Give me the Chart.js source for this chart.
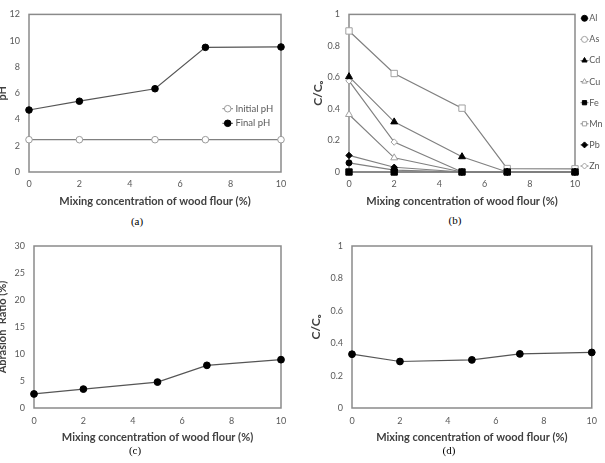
<!DOCTYPE html>
<html><head><meta charset="utf-8">
<script src="https://cdn.jsdelivr.net/npm/chart.js@4.4.1/dist/chart.umd.min.js"></script>
<style>
html,body{margin:0;padding:0;background:#fff;}
body{width:605px;height:463px;overflow:hidden;position:relative;}
canvas{position:absolute;}
.cap{position:absolute;width:40px;height:14px;line-height:14px;text-align:center;font-family:"Liberation Serif","Times New Roman",serif;font-size:11px;font-weight:normal;color:#000;white-space:nowrap;}
</style></head><body>
<canvas id="ca" width="303" height="212" style="left:-3px;top:0px"></canvas>
<canvas id="cb" width="305" height="212" style="left:300px;top:0px"></canvas>
<canvas id="cc" width="303" height="218" style="left:-3px;top:230px"></canvas>
<canvas id="cd" width="305" height="218" style="left:300px;top:230px"></canvas>
<div class="cap" style="left:117px;top:214px">(a)</div>
<div class="cap" style="left:435px;top:213px">(b)</div>
<div class="cap" style="left:115px;top:443px">(c)</div>
<div class="cap" style="left:429px;top:443px">(d)</div>
<script>
// ---------- data ----------
const mixing = [0, 2, 5, 7, 10];
const initialPH = [2.46, 2.46, 2.46, 2.46, 2.46];
const finalPH = [4.72, 5.39, 6.34, 9.49, 9.52];

const metals = ['Al', 'As', 'Cd', 'Cu', 'Fe', 'Mn', 'Pb', 'Zn'];
const alRatio = [0.058, 0.012, 0, 0, 0];
const asRatio = [0, 0, 0, 0, 0];
const cdRatio = [0.605, 0.318, 0.097, 0, 0];
const cuRatio = [0.365, 0.09, 0, 0, 0];
const feRatio = [0, 0, 0, 0, 0];
const mnRatio = [0.895, 0.625, 0.405, 0.022, 0.02];
const pbRatio = [0.105, 0.03, 0, 0, 0];
const znRatio = [0.578, 0.19, 0, 0, 0];

const abrasionRatio = [2.6, 3.5, 4.8, 7.9, 8.95];
const ccoRatio = [0.332, 0.287, 0.297, 0.334, 0.343];

const xTitle = 'Mixing concentration of wood flour (%)';
const phTitle = 'pH';
const ccTitle = 'C/C\u2092';
const abrTitle = 'Abrasion  Ratio (%)';

// ---------- helpers ----------
const FONT = 'Lato, "DejaVu Sans", sans-serif';
const TICK = '#595959';
const TITLE = '#404040';
const pts = vals => mixing.map((x, i) => ({x: x, y: vals[i]}));
const fmt = v => String(Math.round(v * 10) / 10);

function drawMarker(ctx, style, x, y, r, fill, stroke) {
  ctx.save();
  ctx.fillStyle = fill; ctx.strokeStyle = stroke; ctx.lineWidth = 1;
  ctx.beginPath();
  if (style === 'circle') {
    ctx.arc(x, y, r, 0, Math.PI * 2);
  } else if (style === 'triangle') {
    ctx.moveTo(x, y - r);
    ctx.lineTo(x + r * 0.866, y + r * 0.5);
    ctx.lineTo(x - r * 0.866, y + r * 0.5);
    ctx.closePath();
  } else if (style === 'rect') {
    const s = r * Math.SQRT1_2;
    ctx.rect(x - s, y - s, 2 * s, 2 * s);
  } else if (style === 'rectRot') {
    ctx.moveTo(x, y - r); ctx.lineTo(x + r, y); ctx.lineTo(x, y + r); ctx.lineTo(x - r, y); ctx.closePath();
  }
  ctx.fill(); ctx.stroke();
  ctx.restore();
}

const frame = {
  id: 'frame',
  beforeDatasetsDraw(chart) {
    const {ctx, chartArea: a} = chart;
    ctx.save();
    ctx.strokeStyle = '#8a8a8a';
    ctx.lineWidth = 1.5;
    ctx.strokeRect(a.left, a.top, a.right - a.left, a.bottom - a.top);
    ctx.restore();
  }
};

const sideLegend = {
  id: 'sideLegend',
  afterDraw(chart, args, o) {
    if (!o || !o.show) return;
    const ctx = chart.ctx;
    ctx.save();
    ctx.font = o.font;
    ctx.textBaseline = 'middle';
    ctx.textAlign = 'left';
    chart.data.datasets.forEach((ds, i) => {
      const y = o.y + i * o.dy, x = o.x;
      ctx.strokeStyle = ds.borderColor; ctx.lineWidth = 1;
      ctx.beginPath(); ctx.moveTo(x - o.half, y); ctx.lineTo(x + o.half, y); ctx.stroke();
      drawMarker(ctx, ds.pointStyle, x, y, o.r, ds.pointBackgroundColor, ds.pointBorderColor);
      ctx.fillStyle = o.color;
      ctx.fillText(ds.label, x + o.half + o.gap, y);
    });
    ctx.restore();
  }
};

function ds(label, vals, style, fill, stroke, line, r, order) {
  return {
    label: label, data: pts(vals), pointStyle: style,
    pointBackgroundColor: fill, pointBorderColor: stroke, pointBorderWidth: 1,
    pointRadius: r, pointHoverRadius: r, borderColor: line, borderWidth: 1.2,
    backgroundColor: fill, showLine: true, tension: 0, clip: false, order: order || 0
  };
}

function makeChart(id, o) {
  return new Chart(document.getElementById(id), {
    type: 'scatter',
    data: {datasets: o.datasets},
    plugins: [frame, sideLegend],
    options: {
      responsive: false, animation: false, devicePixelRatio: 1,
      layout: {padding: {top: o.top, right: o.right, left: 0, bottom: 0}},
      plugins: {legend: {display: false}, tooltip: {enabled: false}, sideLegend: o.legend || {show: false}},
      scales: {
        x: {
          type: 'linear', min: 0, max: 10,
          ticks: {stepSize: 2, color: TICK, font: {family: FONT, size: 9}, padding: o.xPad},
          grid: {display: false, drawTicks: false}, border: {display: false},
          title: {display: true, text: xTitle, color: TITLE, font: {family: FONT, size: 11, weight: 'bold', lineHeight: 1.2}, padding: {top: 0, bottom: 4.4}},
          afterFit(s) { s.height = 40; }
        },
        y: {
          type: 'linear', min: o.yMin, max: o.yMax,
          ticks: {stepSize: o.yStep, color: TICK, font: {family: FONT, size: 9}, padding: 9, callback: fmt},
          grid: {display: false, drawTicks: false}, border: {display: false},
          title: {display: true, text: o.yTitle, color: TITLE, font: {family: FONT, size: o.yTitleSize, weight: 'bold', lineHeight: o.yTitleLH}, padding: {top: o.yTitlePad, bottom: 0}},
          afterFit(s) { s.width = o.yWidth; }
        }
      }
    }
  });
}

// (a)
makeChart('ca', {
  top: 11, right: 19, yWidth: 32, xPad: 7,
  yMin: 0, yMax: 12, yStep: 2, yTitle: phTitle, yTitleSize: 11, yTitleLH: 1, yTitlePad: 0,
  datasets: [
    ds('Initial pH', initialPH, 'circle', '#ffffff', '#9a9a9a', '#808080', 3.3),
    ds('Final pH', finalPH, 'circle', '#000000', '#000000', '#555555', 3.3)
  ],
  legend: {show: true, x: 230.7, y: 108.7, dy: 14.6, half: 5.3, gap: 2.4, r: 3.3, font: '9.5px ' + FONT, color: TICK}
});

// (b)
const metalVals = [alRatio, asRatio, cdRatio, cuRatio, feRatio, mnRatio, pbRatio, znRatio];
const metalStyle = ['circle', 'circle', 'triangle', 'triangle', 'rect', 'rect', 'rectRot', 'rectRot'];
const metalFill = ['#000000', '#ffffff', '#000000', '#ffffff', '#000000', '#ffffff', '#000000', '#ffffff'];
const metalStroke = ['#000000', '#a0a0a0', '#000000', '#a0a0a0', '#000000', '#a0a0a0', '#000000', '#a0a0a0'];
const metalR = [3, 3, 4, 4, 4.5, 4.5, 3.2, 3.2];
const metalOrder = [0, 1, 0, 0, -1, 0, 0, 0];
makeChart('cb', {
  top: 11, right: 30, yWidth: 49, xPad: 7,
  yMin: 0, yMax: 1, yStep: 0.2, yTitle: ccTitle, yTitleSize: 12, yTitleLH: 1.2, yTitlePad: 10.8,
  datasets: metals.map((m, i) => ds(m, metalVals[i], metalStyle[i], metalFill[i], metalStroke[i], '#808080', metalR[i], metalOrder[i])),
  legend: {show: true, x: 284.5, y: 18.3, dy: 21.1, half: 4, gap: 0.8, r: 3, font: '9px ' + FONT, color: TICK}
});

// (c)
makeChart('cc', {
  top: 16, right: 19, yWidth: 37, xPad: 8,
  yMin: 0, yMax: 30, yStep: 5, yTitle: abrTitle, yTitleSize: 11, yTitleLH: 1, yTitlePad: 0,
  datasets: [ds('Abrasion Ratio', abrasionRatio, 'circle', '#000000', '#000000', '#555555', 3.4)]
});

// (d)
makeChart('cd', {
  top: 16, right: 11, yWidth: 52, xPad: 8,
  yMin: 0, yMax: 1, yStep: 0.2, yTitle: ccTitle, yTitleSize: 12, yTitleLH: 1.2, yTitlePad: 8.8,
  datasets: [ds('C/Co', ccoRatio, 'circle', '#000000', '#000000', '#555555', 3.4)]
});
</script>
</body></html>
